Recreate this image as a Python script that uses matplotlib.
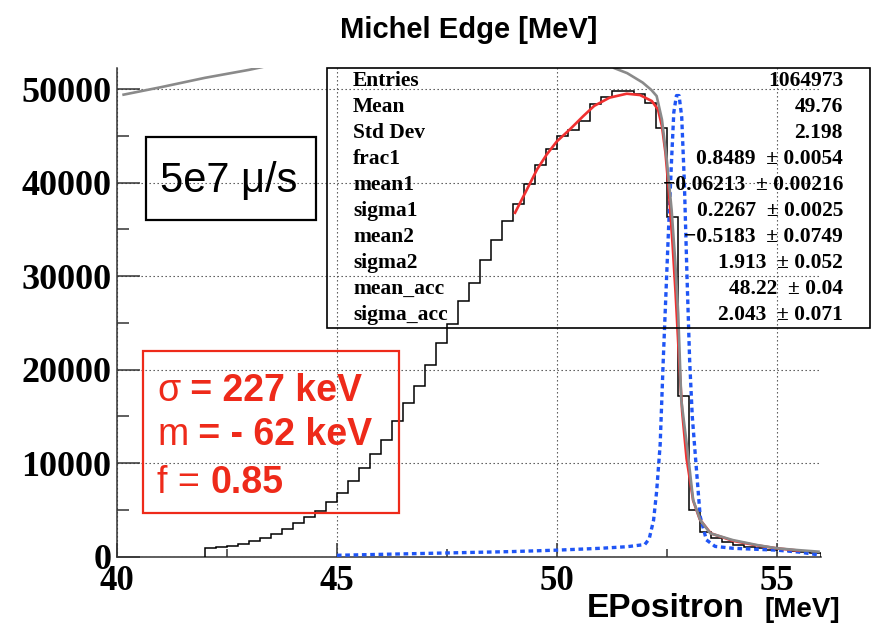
import matplotlib
matplotlib.use("Agg")
import matplotlib.pyplot as plt
from matplotlib.patches import Rectangle
from matplotlib.ticker import MultipleLocator
import numpy as np

# ---- data ----
bin_edges = np.arange(42.0, 56.0001, 0.25)
hist_counts = [960, 1000, 1140, 1360, 1710, 2030, 2450, 2950, 3570, 4200,
               4880, 5900, 6860, 8080, 9500, 10950, 12450, 14500, 16400, 18280,
               20530, 22850, 24900, 27350, 29230, 31770, 33910, 35870, 37760, 39900,
               41830, 43540, 45000, 45600, 46570, 48440, 49190, 49790, 49790, 49500,
               48540, 45870, 36340, 17130, 5000, 2680, 1960, 1610, 1250, 1070,
               890, 710, 780, 600, 530, 430]

fit_x = [49.05, 49.32, 49.55, 49.77, 50.0, 50.3, 50.6, 50.85, 51.2, 51.59,
         51.89, 52.16, 52.3, 52.39, 52.47, 52.55, 52.63, 52.7, 52.77, 52.85,
         52.95, 53.1, 53.25, 53.5, 54.0, 54.5, 55.0, 55.5]
fit_y = [36770, 39260, 41400, 43000, 44400, 45700, 47100, 48200, 49080, 49500,
         49360, 48720, 47830, 46040, 43190, 38910, 33550, 28200, 22000, 15500,
         10500, 6000, 4000, 2500, 1700, 1250, 900, 650]

model_x = [40.15, 41.0, 42.0, 43.0, 43.3, 44.0, 50.5, 51.0, 51.3, 51.6,
           51.95, 52.15, 52.27, 52.39, 52.5, 52.61, 52.69, 52.76, 52.83, 52.97,
           53.1, 53.26, 53.49, 54.0, 54.55, 55.0, 55.5, 55.95]
model_y = [49400, 50200, 51200, 52050, 52350, 53200, 55000, 54000, 52250, 51700,
           50700, 49900, 49250, 46750, 42450, 37100, 31750, 26000, 16770, 11420,
           6070, 3930, 2500, 1780, 1250, 900, 700, 540]

reso_x = [45.0, 46.0, 47.0, 48.0, 49.0, 50.0, 51.0, 51.6, 52.0, 52.1,
          52.2, 52.27, 52.35, 52.42, 52.48, 52.54, 52.61, 52.66, 52.72, 52.78,
          52.84, 52.9, 52.96, 53.02, 53.08, 53.17, 53.26, 53.4, 53.6, 54.0,
          54.5, 55.0, 55.5, 55.95]
reso_y = [150, 250, 350, 450, 550, 700, 900, 1070, 1300, 1900,
          3900, 7000, 12000, 21000, 28000, 35000, 42500, 47500, 49300, 49300,
          47000, 40000, 30000, 21000, 15000, 9600, 4300, 1800, 1100, 900,
          800, 700, 500, 200]

stat_labels = ["Entries", "Mean", "Std Dev", "frac1", "mean1", "sigma1",
               "mean2", "sigma2", "mean_acc", "sigma_acc"]
stat_values = ["1064973", "49.76", "2.198", "0.8489  \u00b1 0.0054",
               "\u22120.06213  \u00b1 0.00216", "0.2267  \u00b1 0.0025",
               "\u22120.5183  \u00b1 0.0749", "1.913  \u00b1 0.052",
               "48.22  \u00b1 0.04", "2.043  \u00b1 0.071"]

note_lines = [[("\u03c3", "normal"), (" = 227 keV", "bold")],
              [("m", "normal"), (" = - 62 keV", "bold")],
              [("f = ", "normal"), ("0.85", "bold")]]

# ---- layout helpers (pixel -> figure fraction) ----
W, H = 873, 624


def fx(p):
    return p / W


def fy(p):
    return 1 - p / H


RED = "#ee2a1a"
SANS = "Liberation Sans"
SERIF = "Liberation Serif"

fig = plt.figure(figsize=(8.73, 6.24), dpi=100)
ax = fig.add_axes([fx(117), fy(556.7), fx(820.7) - fx(117), fy(68) - fy(556.7)])
ax.set_xlim(40, 56)
ax.set_ylim(0, 52250)

# grid + axes styling
ax.set_axisbelow(True)
ax.grid(True, which="major", color="#444444", linestyle=(0, (1.2, 2.4)), linewidth=0.8)
for s in ["top", "right"]:
    ax.spines[s].set_visible(False)
for s in ["left", "bottom"]:
    ax.spines[s].set_color("#333333")
    ax.spines[s].set_linewidth(1.1)

ax.xaxis.set_major_locator(MultipleLocator(5))
ax.xaxis.set_minor_locator(MultipleLocator(2.5))
ax.yaxis.set_major_locator(MultipleLocator(10000))
ax.yaxis.set_minor_locator(MultipleLocator(5000))
ax.tick_params(which="both", direction="in", top=False, right=False, color="#333333")
ax.tick_params(axis="y", which="major", length=16.5, width=1.1, pad=4, labelsize=26)
ax.tick_params(axis="y", which="minor", length=8.5, width=1.1)
ax.tick_params(axis="x", which="major", length=10, width=1.1, pad=6, labelsize=25)
ax.tick_params(axis="x", which="minor", length=6, width=1.1)
for lab in ax.get_xticklabels() + ax.get_yticklabels():
    lab.set_fontfamily(SERIF)
    lab.set_fontweight("bold")

# data
ax.stairs(hist_counts, bin_edges, baseline=0, color="black", linewidth=1.1, zorder=3)
ax.plot(reso_x, reso_y, color="#1f55f5", linewidth=2.4, linestyle=(0, (1.4, 1.1)), zorder=4)
ax.plot(fit_x, fit_y, color="#f03030", linewidth=1.9, zorder=4)
ax.plot(model_x, model_y, color="#8a8a8a", linewidth=1.9, zorder=5)

# title and axis title
fig.text(fx(469), fy(38), "Michel Edge [MeV]", ha="center", va="baseline",
         fontsize=21, fontweight="bold", family=SANS)
fig.text(fx(745), fy(617), "EPositron", ha="right", va="baseline",
         fontsize=24, fontweight="bold", family=SANS)
fig.text(fx(840), fy(617), "[MeV]", ha="right", va="baseline",
         fontsize=20, fontweight="bold", family=SANS)

# stats box (transparent, like ROOT's)
fig.add_artist(Rectangle((fx(327), fy(328)), fx(870) - fx(327), fy(68) - fy(328),
                         transform=fig.transFigure, fill=False, ec="black", lw=1.2))
row_h = (328 - 68) / len(stat_labels)
for i, (lab, val) in enumerate(zip(stat_labels, stat_values)):
    yc = fy(68 + row_h * (i + 0.5))
    fig.text(fx(353), yc, lab, ha="left", va="center", fontsize=15.5,
             fontweight="bold", family=SERIF)
    fig.text(fx(843), yc, val, ha="right", va="center", fontsize=15.5,
             fontweight="bold", family=SERIF)

# rate label
fig.add_artist(Rectangle((fx(146), fy(220)), fx(316) - fx(146), fy(137) - fy(220),
                         transform=fig.transFigure, fill=False, ec="black", lw=1.6))
fig.text(fx(160), fy(192), "5e7 \u03bc/s", ha="left", va="baseline",
         fontsize=30, family=SANS)

# red summary box
fig.add_artist(Rectangle((fx(143), fy(513)), fx(399) - fx(143), fy(351) - fy(513),
                         transform=fig.transFigure, fill=False, ec=RED, lw=1.6))
baselines = [401, 445, 493]
for line, yb in zip(note_lines, baselines):
    t = fig.text(fx(157), fy(yb), line[0][0], ha="left", va="baseline",
                 fontsize=27, fontweight=line[0][1], family=SANS, color=RED)
    for s, w in line[1:]:
        t = ax.annotate(s, xy=(1, 0), xycoords=t, ha="left", va="bottom",
                        fontsize=27, fontweight=w, family=SANS, color=RED,
                        annotation_clip=False)

fig.savefig("out.png", dpi=100)
